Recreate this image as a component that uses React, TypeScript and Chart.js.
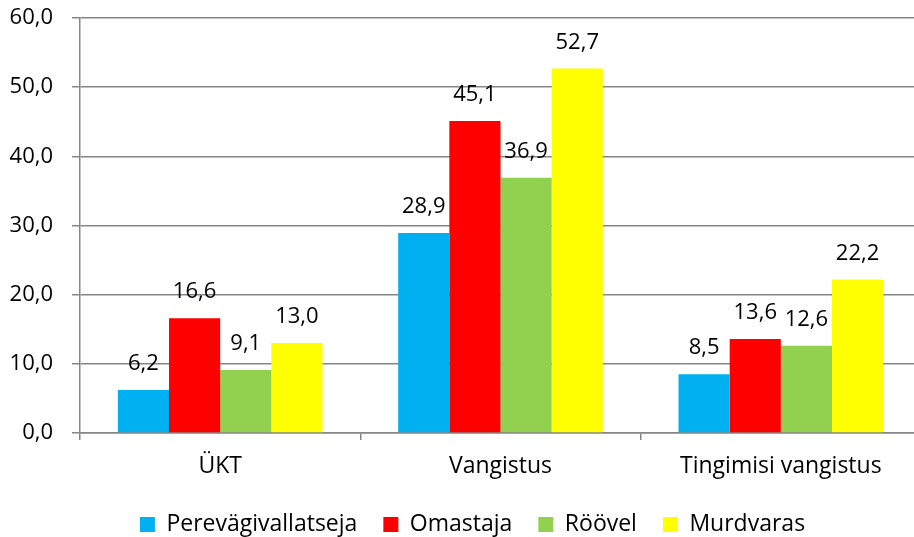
import React, { useEffect, useRef } from "react";
import { Chart, registerables } from "chart.js";

Chart.register(...registerables);

const categories = ["ÜKT", "Vangistus", "Tingimisi vangistus"];
const seriesNames = ["Perevägivallatseja", "Omastaja", "Röövel", "Murdvaras"];
const perevagivallatseja = [6.2, 28.9, 8.5];
const omastaja = [16.6, 45.1, 13.6];
const roovel = [9.1, 36.9, 12.6];
const murdvaras = [13.0, 52.7, 22.2];
const colors = ["#00B0F0", "#FF0000", "#92D050", "#FFFF00"];

const W = 930;
const H = 537;
const FONT = "'Open Sans'";
const FS = 22;
const FS_TEXT = 23;
const LEGEND_SHIFT = 12;
const BOTTOM_PAD = -9;
const fmt = (v: number) => v.toFixed(1).replace(".", ",");

const labelPlugin = {
  id: "barLabels",
  afterLayout(chart: any) {
    if (chart.legend) {
      chart.legend.left += LEGEND_SHIFT;
      chart.legend.right += LEGEND_SHIFT;
    }
  },
  afterDatasetsDraw(chart: any) {
    const ctx = chart.ctx;
    ctx.save();
    ctx.font = `${FS}px ${FONT}`;
    ctx.fillStyle = "#000";
    ctx.textAlign = "center";
    ctx.textBaseline = "middle";
    chart.data.datasets.forEach((ds: any, i: number) => {
      const meta = chart.getDatasetMeta(i);
      meta.data.forEach((bar: any, j: number) => {
        ctx.fillText(fmt(ds.data[j]), bar.x, bar.y - 26);
      });
    });
    ctx.restore();
  },
};

export default function App() {
  const ref = useRef<HTMLCanvasElement>(null);
  useEffect(() => {
    if (!ref.current) return;
    const data = [perevagivallatseja, omastaja, roovel, murdvaras];
    const chart = new Chart(ref.current, {
      type: "bar",
      data: {
        labels: categories,
        datasets: seriesNames.map((name, i) => ({
          label: name,
          data: data[i],
          backgroundColor: colors[i],
          borderWidth: 0,
          categoryPercentage: 0.73,
          barPercentage: 1,
        })),
      },
      options: {
        responsive: false,
        animation: false,
        devicePixelRatio: 1,
        layout: { padding: { top: 18, right: 9, left: 0, bottom: BOTTOM_PAD } },
        plugins: {
          tooltip: { enabled: false },
          legend: {
            position: "bottom",
            labels: {
              font: { family: FONT, size: FS_TEXT },
              color: "#000",
              boxWidth: 15,
              boxHeight: 15,
              padding: 26,
            },
          },
        },
        scales: {
          x: {
            grid: {
              display: true,
              drawOnChartArea: false,
              drawTicks: true,
              tickLength: 7,
              offset: true,
              color: "#868686",
              lineWidth: 1.5,
            },
            border: { color: "#868686", width: 1.5 },
            ticks: {
              font: { family: FONT, size: FS_TEXT },
              color: "#000",
              padding: 13,
            },
            afterFit: (s: any) => {
              s.height = H - BOTTOM_PAD - 433 - s.chart.legend.height;
            },
          },
          y: {
            min: 0,
            max: 60,
            ticks: {
              stepSize: 10,
              font: { family: FONT, size: FS },
              color: "#000",
              padding: 19,
              callback: (v: any) => fmt(Number(v)),
            },
            grid: { color: "#868686", lineWidth: 1.5, tickLength: 8 },
            border: { color: "#868686", width: 1.5 },
            afterFit: (s: any) => {
              s.width = 80;
              s.paddingTop = 0;
              s.paddingBottom = 0;
            },
          },
        },
      },
      plugins: [labelPlugin],
    });
    return () => chart.destroy();
  }, []);
  return (
    <div style={{ position: "fixed", left: 0, top: 0, width: W, height: H, background: "#fff" }}>
      <canvas ref={ref} width={W} height={H} style={{ width: W, height: H, display: "block" }} />
    </div>
  );
}
